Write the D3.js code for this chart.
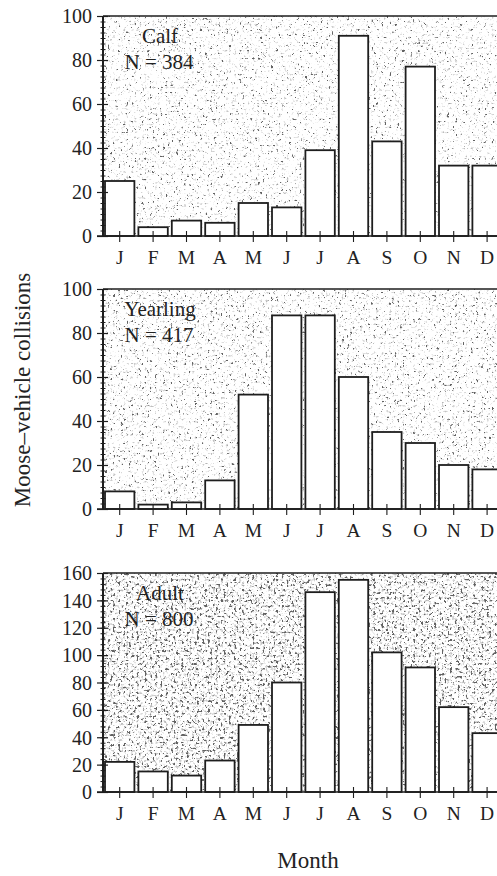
<!DOCTYPE html>
<html lang="en">
<head>
    <meta charset="UTF-8">
    <title>Moose-vehicle collisions by month</title>
    <script type="text/javascript" src="https://cdn.jsdelivr.net/npm/d3@7"></script>
    <style type="text/css">
        body { margin: 0; background: #fff; }
        text { font-family: "Liberation Serif", "Times New Roman", serif; fill: #222; }
    </style>
</head>
<body>
    <script type="text/javascript">
        //Width and height
        var w = 497;
        var h = 876;

        var months = ["J", "F", "M", "A", "M", "J", "J", "A", "S", "O", "N", "D"];

        var calf = [25, 4, 7, 6, 15, 13, 39, 91, 43, 77, 32, 32];
        var yearling = [8, 2, 3, 13, 52, 88, 88, 60, 35, 30, 20, 18];
        var adult = [22, 15, 12, 23, 49, 80, 146, 155, 102, 91, 62, 43];

        var groupNames = ["Calf", "Yearling", "Adult"];
        var groupN = ["N = 384", "N = 417", "N = 800"];
        var yMax = [100, 100, 160];
        var yMajor = [d3.range(0, 101, 20), d3.range(0, 101, 20), d3.range(0, 161, 20)];
        var yMinor = [d3.range(0, 100.1, 2.5), d3.range(0, 100.1, 2.5), d3.range(0, 160.1, 4)];

        var series = [calf, yearling, adult];

        // layout
        var left = 103;
        var tops = [16, 289, 573];
        var bottoms = [236, 509, 792];
        var ink = "#1e1e1e";
        var serif = "Liberation Serif, Times New Roman, serif";

        var xScale = d3.scaleBand()
            .domain(d3.range(months.length))
            .range([left, 503.8])
            .paddingInner(0.12)
            .paddingOuter(0.06);

        //Create SVG element
        var svg = d3.select("body")
            .append("svg")
            .attr("width", w)
            .attr("height", h);

        // stipple filters (light for the first two panels, heavier for the adult one)
        var defs = svg.append("defs");
        var stipple = function(id, seed, cut, haze) {
            var f = defs.append("filter")
                .attr("id", id)
                .attr("x", 0).attr("y", 0)
                .attr("width", "100%").attr("height", "100%");
            f.append("feTurbulence")
                .attr("type", "fractalNoise")
                .attr("baseFrequency", 0.38)
                .attr("numOctaves", 2)
                .attr("seed", seed)
                .attr("result", "noise");
            // dark specks
            f.append("feColorMatrix")
                .attr("in", "noise")
                .attr("type", "matrix")
                .attr("values", "0 0 0 0 0.12  0 0 0 0 0.12  0 0 0 0 0.12  12 0 0 0 " + (-12 * cut))
                .attr("result", "specks");
            // faint gray grain
            f.append("feColorMatrix")
                .attr("in", "noise")
                .attr("type", "matrix")
                .attr("values", "0 0 0 0 0.5  0 0 0 0 0.5  0 0 0 0 0.5  0 4 0 0 " + (-4 * haze))
                .attr("result", "grain");
            var m = f.append("feMerge");
            m.append("feMergeNode").attr("in", "grain");
            m.append("feMergeNode").attr("in", "specks");
        };
        stipple("stip0", 4, 0.675, 0.61);
        stipple("stip1", 9, 0.67, 0.60);
        stipple("stip2", 17, 0.605, 0.54);

        series.forEach(function(data, p) {
            var yScale = d3.scaleLinear()
                .domain([0, yMax[p]])
                .range([bottoms[p], tops[p]]);

            var g = svg.append("g");

            // stippled plot area
            g.append("rect")
                .attr("x", left)
                .attr("y", tops[p])
                .attr("width", w - left)
                .attr("height", bottoms[p] - tops[p])
                .attr("fill", "#fff")
                .attr("filter", "url(#stip" + p + ")");

            //Create bars
            g.selectAll("rect.bar")
                .data(data)
                .enter()
                .append("rect")
                .attr("class", "bar")
                .attr("x", function(d, i) {
                    return xScale(i);
                })
                .attr("y", function(d) {
                    return yScale(d);
                })
                .attr("width", xScale.bandwidth())
                .attr("height", function(d) {
                    return bottoms[p] - yScale(d);
                })
                .attr("fill", "#fff")
                .attr("stroke", ink)
                .attr("stroke-width", 1.8);

            // top frame line
            g.append("line")
                .attr("x1", left).attr("x2", w)
                .attr("y1", tops[p]).attr("y2", tops[p])
                .attr("stroke", ink)
                .attr("stroke-width", 1.5);

            // y axis: minor ticks
            var yMinorAxis = d3.axisLeft(yScale)
                .tickValues(yMinor[p])
                .tickFormat("")
                .tickSize(0);
            var gm = g.append("g")
                .attr("transform", "translate(" + left + ",0)")
                .call(yMinorAxis);
            gm.select(".domain").remove();
            gm.selectAll(".tick line")
                .attr("x1", -2.5).attr("x2", 2.5)
                .attr("stroke", ink);

            // y axis: major ticks and labels
            var yAxis = d3.axisLeft(yScale)
                .tickValues(yMajor[p])
                .tickSize(0)
                .tickPadding(11);
            var gy = g.append("g")
                .attr("transform", "translate(" + left + ",0)")
                .call(yAxis);
            gy.attr("font-family", serif).attr("font-size", 20);
            gy.select(".domain").remove();
            gy.selectAll(".tick line")
                .attr("x1", -6).attr("x2", 5)
                .attr("stroke", ink)
                .attr("stroke-width", 1.2);
            gy.selectAll(".tick text")
                .attr("dy", "0.34em")
                .attr("fill", "#2a2a2a");

            g.append("line")
                .attr("x1", left).attr("x2", left)
                .attr("y1", tops[p]).attr("y2", bottoms[p])
                .attr("stroke", ink)
                .attr("stroke-width", 2);

            // x axis
            var xAxis = d3.axisBottom(xScale)
                .tickFormat(function(i) {
                    return months[i];
                })
                .tickSize(0);
            var gx = g.append("g")
                .attr("transform", "translate(0," + bottoms[p] + ")")
                .call(xAxis);
            gx.attr("font-family", serif).attr("font-size", 19.5);
            gx.select(".domain").remove();
            gx.selectAll(".tick line")
                .attr("y1", -5).attr("y2", 6)
                .attr("stroke", ink)
                .attr("stroke-width", 1.1);
            gx.selectAll(".tick text")
                .attr("y", 28)
                .attr("dy", 0)
                .attr("fill", "#2a2a2a");

            g.append("line")
                .attr("x1", left - 6).attr("x2", w)
                .attr("y1", bottoms[p]).attr("y2", bottoms[p])
                .attr("stroke", ink)
                .attr("stroke-width", 1.6);

            // group label
            var lab = g.append("text")
                .attr("text-anchor", "middle")
                .attr("font-size", 21);
            lab.append("tspan")
                .attr("x", left + 57)
                .attr("y", tops[p] + 27)
                .text(groupNames[p]);
            lab.append("tspan")
                .attr("x", left + 56)
                .attr("y", tops[p] + 53)
                .text(groupN[p]);
        });

        // axis titles
        svg.append("text")
            .attr("transform", "translate(30,390) rotate(-90)")
            .attr("text-anchor", "middle")
            .attr("font-size", 23)
            .text("Moose\u2013vehicle collisions");

        svg.append("text")
            .attr("x", 308)
            .attr("y", 868)
            .attr("text-anchor", "middle")
            .attr("font-size", 23)
            .text("Month");
    </script>
</body>
</html>
